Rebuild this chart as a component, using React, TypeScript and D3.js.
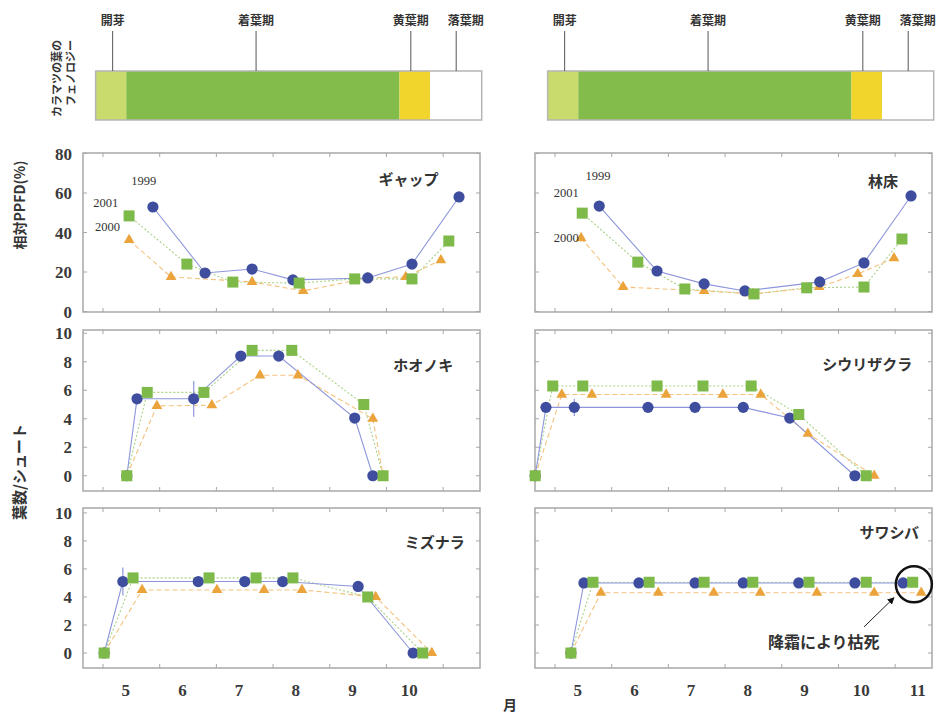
import React from "react";
import * as d3 from "d3";

type Pt = [number, number];
type Err = [number, number, number];

// Larch leaf phenology: stage boundaries (month), colours and labels
const phenoBounds = [4.87, 5.41, 10.23, 10.77, 11.68];
const phenoColors = ["#cadb6e", "#84bc4b", "#f2d52c", "#ffffff"];
const phenoStages = ["開芽", "着葉期", "黄葉期", "落葉期"];
const phenoLeaderX = [5.17, 7.7, 10.43, 11.23];
const phenoLabelX = [5.17, 7.7, 10.43, 11.4];

// Relative PPFD (%) – gap
const gap1999: Pt[] = [[5.88, 52.9], [6.8, 19.5], [7.63, 21.5], [8.35, 16], [9.67, 17], [10.45, 24], [11.28, 58]];
const gap2000: Pt[] = [[5.46, 36.2], [6.2, 17.5], [7.63, 15], [8.53, 10.4], [9.67, 17], [10.34, 17.5], [10.96, 26]];
const gap2001: Pt[] = [[5.46, 48.4], [6.48, 24], [7.29, 14.9], [8.46, 14.4], [9.44, 16.5], [10.45, 16.5], [11.1, 35.7]];

// Relative PPFD (%) – forest floor
const floor1999: Pt[] = [[5.78, 53.4], [6.8, 20.5], [7.63, 14], [8.35, 10.4], [9.67, 15], [10.45, 24.6], [11.28, 58.5]];
const floor2000: Pt[] = [[5.46, 37.2], [6.2, 12.4], [7.63, 10.4], [8.49, 8.9], [9.66, 12.4], [10.34, 19], [10.98, 27]];
const floor2001: Pt[] = [[5.48, 49.8], [6.46, 25], [7.29, 11.4], [8.51, 8.9], [9.44, 12], [10.45, 12.4], [11.12, 36.7]];

// Leaves per shoot – ホオノキ
const hoonoki1999: Pt[] = [[5.42, 0], [5.6, 5.4], [6.6, 5.4], [7.43, 8.4], [8.1, 8.4], [9.44, 4.05], [9.76, 0]];
const hoonoki2000: Pt[] = [[5.42, 0], [5.95, 4.9], [6.92, 4.95], [7.77, 7.05], [8.44, 7.05], [9.76, 4.0], [9.94, 0]];
const hoonoki2001: Pt[] = [[5.42, 0], [5.78, 5.85], [6.78, 5.85], [7.63, 8.8], [8.33, 8.8], [9.6, 5.0], [9.94, 0]];

// Leaves per shoot – シウリザクラ
const shiuri1999: Pt[] = [[4.65, 0], [4.84, 4.8], [5.34, 4.8], [6.64, 4.8], [7.47, 4.8], [8.32, 4.8], [9.14, 4.05], [10.29, 0]];
const shiuri2000: Pt[] = [[4.65, 0], [5.12, 5.7], [5.65, 5.7], [6.96, 5.7], [7.96, 5.7], [8.63, 5.7], [9.46, 2.95], [10.63, 0]];
const shiuri2001: Pt[] = [[4.65, 0], [4.96, 6.3], [5.49, 6.3], [6.8, 6.3], [7.61, 6.3], [8.46, 6.3], [9.3, 4.3], [10.49, 0]];

// Leaves per shoot – ミズナラ
const mizunara1999: Pt[] = [[5.02, 0], [5.35, 5.1], [6.68, 5.1], [7.5, 5.1], [8.17, 5.1], [9.5, 4.75], [10.47, 0]];
const mizunara2000: Pt[] = [[5.02, 0], [5.69, 4.5], [7.01, 4.5], [7.84, 4.5], [8.51, 4.5], [9.81, 4.0], [10.8, 0]];
const mizunara2001: Pt[] = [[5.02, 0], [5.53, 5.36], [6.87, 5.36], [7.7, 5.36], [8.35, 5.36], [9.67, 4.0], [10.64, 0]];

// Leaves per shoot – サワシバ
const sawashiba1999: Pt[] = [[5.28, 0], [5.51, 5.0], [6.48, 5.0], [7.47, 5.0], [8.32, 5.0], [9.3, 5.0], [10.29, 5.0], [11.14, 5.0]];
const sawashiba2000: Pt[] = [[5.28, 0], [5.81, 4.3], [6.82, 4.3], [7.8, 4.3], [8.62, 4.3], [9.62, 4.3], [10.63, 4.3], [11.46, 4.3]];
const sawashiba2001: Pt[] = [[5.28, 0], [5.67, 5.05], [6.66, 5.05], [7.63, 5.05], [8.49, 5.05], [9.48, 5.05], [10.49, 5.05], [11.31, 5.05]];

// Standard-error bars (1999)
const hoonokiErr: Err[] = [[6.6, 5.4, 1.25]];
const shiuriErr: Err[] = [[5.34, 4.8, 0.6]];
const mizunaraErr: Err[] = [[5.35, 5.1, 1.0]];

const ppfdTicks = [0, 20, 40, 60, 80];
const leafTicks = [0, 2, 4, 6, 8, 10];
const monthTicks = [5, 6, 7, 8, 9, 10, 11];
const monthLabelsLeft = ["5", "6", "7", "8", "9", "10"];
const monthLabelsRight = ["5", "6", "7", "8", "9", "10", "11"];

const JP = "'Noto Sans CJK JP', 'Noto Sans', sans-serif";
const SERIF = "'Liberation Serif', 'DejaVu Serif', serif";

const C1999 = "#3e4d9d";
const C2000 = "#eba33c";
const C2001 = "#7dba49";
const L1999 = "#8d96dc";
const L2000 = "#f4c27e";
const L2001 = "#a9d387";
const FRAME = "#a8a8a8";

const cols = [
  { x0: 83, x1: 480 },
  { x0: 535, x1: 932 },
];
const rows = [
  { y0: 153, y1: 312, dom: [-0.25, 80.25], ticks: ppfdTicks },
  { y0: 330, y1: 491, dom: [-1.07, 10.23], ticks: leafTicks },
  { y0: 508, y1: 668, dom: [-1.07, 10.35], ticks: leafTicks },
];
const monthDomain = [4.647, 11.65];

type Panel = {
  col: number;
  row: number;
  title: string;
  titleX: number; // months
  titleY: number; // data units
  s1999: Pt[];
  s2000: Pt[];
  s2001: Pt[];
  err: Err[];
  yearLabels?: { text: string; x: number; y: number; anchor: string }[];
};

const panels: Panel[] = [
  {
    col: 0, row: 0, title: "ギャップ", titleX: 10.92, titleY: 67,
    s1999: gap1999, s2000: gap2000, s2001: gap2001, err: [],
    yearLabels: [
      { text: "1999", x: 5.72, y: 66.5, anchor: "middle" },
      { text: "2001", x: 5.27, y: 55.4, anchor: "end" },
      { text: "2000", x: 5.3, y: 42.8, anchor: "end" },
    ],
  },
  {
    col: 1, row: 0, title: "林床", titleX: 11.05, titleY: 66,
    s1999: floor1999, s2000: floor2000, s2001: floor2001, err: [],
    yearLabels: [
      { text: "1999", x: 5.76, y: 69, anchor: "middle" },
      { text: "2001", x: 5.42, y: 60, anchor: "end" },
      { text: "2000", x: 5.42, y: 37.5, anchor: "end" },
    ],
  },
  { col: 0, row: 1, title: "ホオノキ", titleX: 11.18, titleY: 7.7, s1999: hoonoki1999, s2000: hoonoki2000, s2001: hoonoki2001, err: hoonokiErr },
  { col: 1, row: 1, title: "シウリザクラ", titleX: 11.3, titleY: 7.8, s1999: shiuri1999, s2000: shiuri2000, s2001: shiuri2001, err: shiuriErr },
  { col: 0, row: 2, title: "ミズナラ", titleX: 11.38, titleY: 7.9, s1999: mizunara1999, s2000: mizunara2000, s2001: mizunara2001, err: mizunaraErr },
  { col: 1, row: 2, title: "サワシバ", titleX: 11.42, titleY: 8.6, s1999: sawashiba1999, s2000: sawashiba2000, s2001: sawashiba2001, err: [] },
];

const triangle = d3.symbol(d3.symbolTriangle).size(50)() as string;

function PlotPanel({ p }: { p: Panel }) {
  const c = cols[p.col];
  const r = rows[p.row];
  const x = d3.scaleLinear().domain(monthDomain).range([c.x0, c.x1]);
  const y = d3.scaleLinear().domain(r.dom).range([r.y1, r.y0]);
  const line = d3
    .line<Pt>()
    .x((d) => x(d[0]))
    .y((d) => y(d[1]));
  const tk = 4;
  const showYLabels = p.col === 0;
  return (
    <g>
      <rect x={c.x0} y={r.y0} width={c.x1 - c.x0} height={r.y1 - r.y0} fill="#fff" stroke={FRAME} strokeWidth={1.5} />
      {monthTicks.map((m) => (
        <g key={"mt" + m} stroke={FRAME} strokeWidth={1}>
          <line x1={x(m)} x2={x(m)} y1={r.y1} y2={r.y1 - tk} />
          <line x1={x(m)} x2={x(m)} y1={r.y0} y2={r.y0 + tk} />
        </g>
      ))}
      {r.ticks.map((v) => (
        <g key={"yt" + v}>
          <line x1={c.x0} x2={c.x0 + tk} y1={y(v)} y2={y(v)} stroke={FRAME} />
          <line x1={c.x1} x2={c.x1 - tk} y1={y(v)} y2={y(v)} stroke={FRAME} />
          {showYLabels && (
            <text x={c.x0 - 11} y={y(v)} dy="0.36em" textAnchor="end" fontFamily={SERIF} fontWeight="bold" fontSize={17} fill="#3a3a3a">
              {v}
            </text>
          )}
        </g>
      ))}
      {/* connecting lines */}
      <path d={line(p.s2001) || ""} fill="none" stroke={L2001} strokeWidth={1.1} strokeDasharray="2,2" />
      <path d={line(p.s2000) || ""} fill="none" stroke={L2000} strokeWidth={1.1} strokeDasharray="5,3" />
      <path d={line(p.s1999) || ""} fill="none" stroke={L1999} strokeWidth={1.1} />
      {/* error bars */}
      {p.err.map((e, i) => (
        <line key={"e" + i} x1={x(e[0])} x2={x(e[0])} y1={y(e[1] - e[2])} y2={y(e[1] + e[2])} stroke={L1999} strokeWidth={1.2} />
      ))}
      {/* markers */}
      {p.s2000.map((d, i) => (
        <path key={"t" + i} d={triangle} transform={`translate(${x(d[0])},${y(d[1])})`} fill={C2000} />
      ))}
      {p.s1999.map((d, i) => (
        <circle key={"c" + i} cx={x(d[0])} cy={y(d[1])} r={5.6} fill={C1999} />
      ))}
      {p.s2001.map((d, i) => (
        <rect key={"s" + i} x={x(d[0]) - 5.5} y={y(d[1]) - 5.5} width={11} height={11} fill={C2001} />
      ))}
      <text x={x(p.titleX)} y={y(p.titleY)} dy="0.36em" textAnchor="end" fontFamily={JP} fontWeight="bold" fontSize={15} fill="#333">
        {p.title}
      </text>
      {p.yearLabels &&
        p.yearLabels.map((l) => (
          <text key={l.text} x={x(l.x)} y={y(l.y)} dy="0.36em" textAnchor={l.anchor as any} fontFamily={SERIF} fontSize={12.5} fill="#333">
            {l.text}
          </text>
        ))}
    </g>
  );
}

function Phenology({ col }: { col: number }) {
  const c = cols[col];
  const x = d3.scaleLinear().domain(monthDomain).range([c.x0, c.x1]);
  const top = 71;
  const bottom = 120;
  return (
    <g>
      {phenoColors.map((fill, i) => (
        <rect key={i} x={x(phenoBounds[i])} y={top} width={x(phenoBounds[i + 1]) - x(phenoBounds[i])} height={bottom - top} fill={fill} />
      ))}
      <rect x={x(phenoBounds[0])} y={top} width={x(phenoBounds[4]) - x(phenoBounds[0])} height={bottom - top} fill="none" stroke="#b5b5b5" strokeWidth={1.5} />
      {phenoStages.map((s, i) => (
        <g key={s}>
          <line x1={x(phenoLeaderX[i])} x2={x(phenoLeaderX[i])} y1={31} y2={top} stroke="#555" strokeWidth={1} />
          <text x={x(phenoLabelX[i])} y={21} dy="0.36em" textAnchor="middle" fontFamily={JP} fontWeight="bold" fontSize={12} fill="#333">
            {s}
          </text>
        </g>
      ))}
    </g>
  );
}

export default function App() {
  const W = 949;
  const H = 717;
  const xr = d3.scaleLinear().domain(monthDomain).range([cols[1].x0, cols[1].x1]);
  const yr = d3.scaleLinear().domain(rows[2].dom).range([rows[2].y1, rows[2].y0]);
  const xl = d3.scaleLinear().domain(monthDomain).range([cols[0].x0, cols[0].x1]);
  const labelY = 690;
  return (
    <svg width={W} height={H} viewBox={`0 0 ${W} ${H}`} style={{ position: "absolute", left: 0, top: 0, background: "#fff" }}>
      <rect width={W} height={H} fill="#fff" />
      <Phenology col={0} />
      <Phenology col={1} />
      <text transform="translate(61,40) rotate(-90)" textAnchor="end" fontFamily={JP} fontWeight="bold" fontSize={11} fill="#333">
        カラマツの葉の
      </text>
      <text transform="translate(75,40) rotate(-90)" textAnchor="end" fontFamily={JP} fontWeight="bold" fontSize={11} fill="#333">
        フェノロジー
      </text>
      {panels.map((p, i) => (
        <PlotPanel key={i} p={p} />
      ))}
      {monthLabelsLeft.map((m) => (
        <text key={"l" + m} x={xl(+m + 0.4)} y={labelY} dy="0.36em" textAnchor="middle" fontFamily={SERIF} fontWeight="bold" fontSize={17} fill="#3a3a3a">
          {m}
        </text>
      ))}
      {monthLabelsRight.map((m) => (
        <text key={"r" + m} x={xr(+m + 0.4)} y={labelY} dy="0.36em" textAnchor="middle" fontFamily={SERIF} fontWeight="bold" fontSize={17} fill="#3a3a3a">
          {m}
        </text>
      ))}
      <text x={510} y={705} dy="0.36em" textAnchor="middle" fontFamily={JP} fontWeight="bold" fontSize={14} fill="#333">
        月
      </text>
      <text transform="translate(20,205) rotate(-90)" textAnchor="middle" dy="0.36em" fontFamily={JP} fontWeight="bold" fontSize={14} fill="#333">
        相対PPFD(%)
      </text>
      <text transform="translate(20,472) rotate(-90)" textAnchor="middle" dy="0.36em" fontFamily={JP} fontWeight="bold" fontSize={15} fill="#333">
        葉数/シュート
      </text>
      {/* frost-kill annotation */}
      <circle cx={xr(11.33)} cy={yr(4.9)} r={18} fill="none" stroke="#111" strokeWidth={2.5} />
      <defs>
        <marker id="arrowhead" viewBox="0 0 10 10" refX="9" refY="5" markerWidth="7" markerHeight="7" orient="auto">
          <path d="M0,0 L10,5 L0,10 z" fill="#111" />
        </marker>
      </defs>
      <line x1={xr(10.45)} y1={yr(1.86)} x2={xr(10.98)} y2={yr(3.95)} stroke="#222" strokeWidth={1} markerEnd="url(#arrowhead)" />
      <text x={xr(9.74)} y={yr(0.8)} dy="0.36em" textAnchor="middle" fontFamily={JP} fontWeight="bold" fontSize={16} fill="#333">
        降霜により枯死
      </text>
    </svg>
  );
}
